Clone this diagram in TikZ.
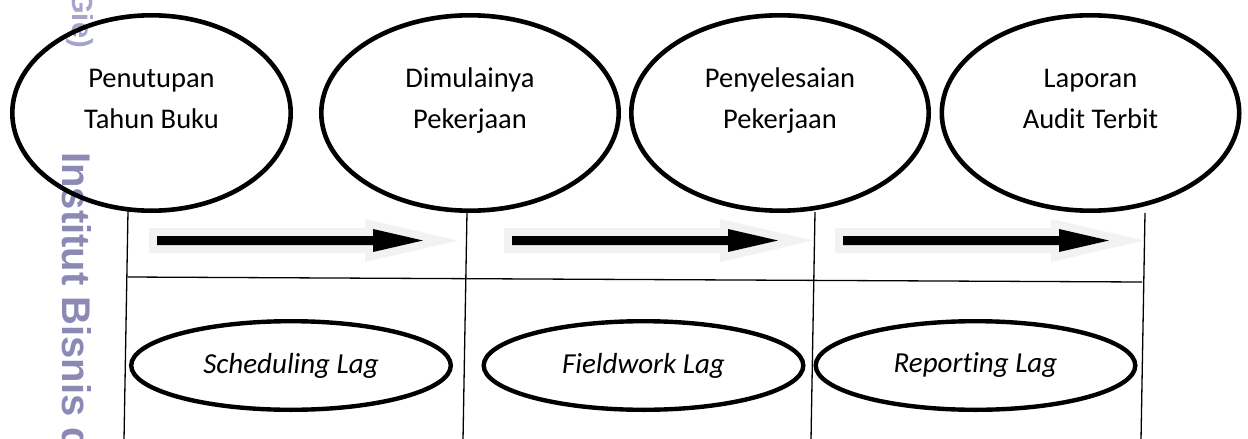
\documentclass[tikz,border=0pt]{standalone}
\usepackage{fontspec}
\setmainfont{Carlito}[Ligatures=CommonOff]
\newfontfamily\markfont{Liberation Sans}
\usetikzlibrary{shapes.geometric}
\definecolor{halo}{HTML}{F2F2F2}
\definecolor{markblue}{HTML}{8C8AB5}
\definecolor{markpale}{HTML}{A5A4C9}

\tikzset{
  event/.style={ellipse, draw, line width=4.6pt, inner sep=0pt,
    minimum height=195.4pt, minimum width=297.4pt},
  lagbox/.style={ellipse, draw, line width=4.4pt, inner sep=0pt,
    minimum height=88.6pt, minimum width=319.6pt,
    font=\fontsize{29}{35}\selectfont\itshape},
  eventtext/.style={align=center, anchor=base, inner sep=0pt,
    font=\fontsize{28.5}{41}\selectfont},
  rule/.style={line width=1.3pt},
  watermark/.style={rotate=-90, inner sep=0pt},
  lagarrow/.pic={
    % pale block arrow behind the black one
    \fill[halo] (0,-12.5) -- (216,-12.5) -- (216,-21.5) -- (309,0)
      -- (216,21.5) -- (216,12.5) -- (0,12.5) -- cycle;
    \fill[black] (8,-4.5) -- (224,-4.5) -- (224,-11.5) -- (274,0)
      -- (224,11.5) -- (224,4.5) -- (8,4.5) -- cycle;
  }
}

\begin{document}
\begin{tikzpicture}[x=1pt, y=-1pt]
\useasboundingbox (0,0) rectangle (1248,439);
\fill[white] (0,0) rectangle (1248,439);
\clip (0,0) rectangle (1248,439);

% repository stamp along the left margin
\node[watermark, text=markpale, anchor=base east,
      font=\markfont\bfseries\fontsize{29}{30}\selectfont] (stampa) at (72,48) {Gie)};
\node[watermark, text=markblue, anchor=base west,
      font=\markfont\bfseries\fontsize{40}{42}\selectfont] (stampb) at (62,152) {Institut Bisnis d};

% milestones
\node[event, minimum width=278.4pt] (e1) at (151.5,113) {};
\node[event] (e2) at (470,113) {};
\node[event] (e3) at (780,113) {};
\node[event] (e4) at (1090.5,113) {};

% labels: anchor sits on the baseline of the second line
\node[eventtext] (t1) at (151.5,128) {Penutupan\\Tahun Buku};
\node[eventtext] (t2) at (470,128) {Dimulainya\\Pekerjaan};
\node[eventtext] (t3) at (780,128) {Penyelesaian\\Pekerjaan};
\node[eventtext] (t4) at (1090.5,128) {Laporan\\Audit Terbit};

% time grid under the milestones
\coordinate (v1t) at (128,211);   \coordinate (v1b) at (124,440);
\coordinate (v2t) at (467,212);   \coordinate (v2b) at (463,440);
\coordinate (v3t) at (815,212);   \coordinate (v3b) at (811,440);
\coordinate (v4t) at (1145,213);  \coordinate (v4b) at (1141,440);
\coordinate (hl) at (127.5,277);  \coordinate (hr) at (1142,282);

\draw[rule] (v1t) -- (v1b);
\draw[rule] (v2t) -- (v2b);
\draw[rule] (v3t) -- (v3b);
\draw[rule] (v4t) -- (v4b);
\draw[rule] (hl) -- (hr);

% direction of time in each interval
\pic at (149,240.5) {lagarrow};
\pic at (504,240.5) {lagarrow};
\pic at (835,240.5) {lagarrow};

% the three lags
\node[lagbox] (b1) at (291,365.5) {Scheduling Lag};
\node[lagbox] (b2) at (643.5,365.5) {Fieldwork Lag};
\node[lagbox] (b3) at (975.5,365.5) {Reporting Lag};
\end{tikzpicture}
\end{document}
